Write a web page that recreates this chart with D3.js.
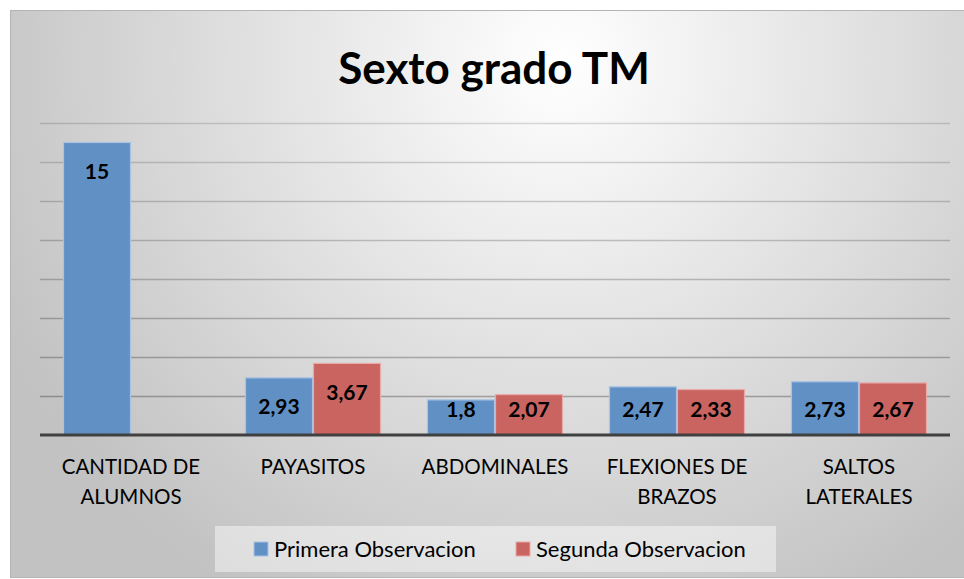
<!DOCTYPE html>
<html>
<head>
<meta charset="utf-8">
<script src="https://cdn.jsdelivr.net/npm/d3@7"></script>
<style>
  body { margin: 0; background: #fff; }
  svg { display: block; font-family: Lato, "Open Sans", sans-serif; }
</style>
</head>
<body>
<div id="chart"></div>
<script>
// Data
let categories = ["CANTIDAD DE ALUMNOS", "PAYASITOS", "ABDOMINALES", "FLEXIONES DE BRAZOS", "SALTOS LATERALES"];
let categoryLines = [["CANTIDAD DE", "ALUMNOS"], ["PAYASITOS"], ["ABDOMINALES"], ["FLEXIONES DE", "BRAZOS"], ["SALTOS", "LATERALES"]];
let seriesNames = ["Primera Observacion", "Segunda Observacion"];
let primera = [15, 2.93, 1.8, 2.47, 2.73];
let segunda = [null, 3.67, 2.07, 2.33, 2.67];
let yTicks = [0, 2, 4, 6, 8, 10, 12, 14, 16];
let titleText = "Sexto grado TM";

function barChart(){
    let width = 964, height = 579;
    let plot = {"left": 40, "right": 950, "top": 123, "bottom": 435};
    let colors = ["#6190c5", "#c96461"];
    let strokes = ["#a8c2e4", "#e8aaa8"];

    let svg = d3.select("#chart").append("svg")
        .attr("width", width)
        .attr("height", height);

    // background gradient
    let defs = svg.append("defs");
    let grad = defs.append("radialGradient")
        .attr("id", "bg")
        .attr("gradientUnits", "userSpaceOnUse")
        .attr("cx", 560).attr("cy", 60).attr("r", 620);
    grad.append("stop").attr("offset", "0%").attr("stop-color", "#ffffff");
    grad.append("stop").attr("offset", "100%").attr("stop-color", "#c2c2c2");

    svg.append("rect")
        .attr("x", 10.5).attr("y", 10.5)
        .attr("width", width).attr("height", 567)
        .attr("fill", "url(#bg)")
        .attr("stroke", "#b4b4b4");

    // title
    svg.append("text")
        .attr("x", 494).attr("y", 84)
        .attr("text-anchor", "middle")
        .style("font-size", "44px")
        .style("font-weight", "bold")
        .attr("fill", "#000")
        .text(titleText);

    // scales
    let x0 = d3.scaleBand()
        .domain(categories)
        .range([plot.left, plot.right])
        .paddingInner(0.2527)
        .paddingOuter(0.1264);
    let x1 = d3.scaleBand()
        .domain(seriesNames)
        .range([0, x0.bandwidth()]);
    let y = d3.scaleLinear()
        .domain([0, 16])
        .range([plot.bottom, plot.top]);

    // gridlines
    let yAxis = d3.axisLeft(y)
        .tickValues(yTicks.slice(1))
        .tickSize(-(plot.right - plot.left))
        .tickFormat("");
    let grid = svg.append("g")
        .attr("class", "grid")
        .attr("transform", "translate(" + plot.left + ",0)")
        .call(yAxis);
    grid.select(".domain").remove();
    grid.selectAll("line")
        .attr("stroke", "#000")
        .attr("stroke-opacity", d => 0.14 + 0.16 * (1 - d / 16))
        .attr("stroke-width", 1.5);

    // bars
    let rows = categories.map((c, i) => ({cat: c, values: [primera[i], segunda[i]]}));
    let groups = svg.selectAll(".group")
        .data(rows)
        .enter().append("g")
        .attr("transform", d => "translate(" + x0(d.cat) + ",0)");

    let cells = groups.selectAll(".bar")
        .data(d => d.values.map((v, j) => ({v: v, s: seriesNames[j], j: j})).filter(e => e.v != null))
        .enter();

    cells.append("rect")
        .attr("x", d => x1(d.s) + 0.5)
        .attr("y", d => y(d.v))
        .attr("width", x1.bandwidth() - 1)
        .attr("height", d => y(0) - y(d.v))
        .attr("fill", d => colors[d.j])
        .attr("stroke", d => strokes[d.j])
        .attr("stroke-width", 1.2);

    cells.append("text")
        .attr("x", d => x1(d.s) + x1.bandwidth() / 2)
        .attr("y", d => Math.min(y(d.v) + 29, y(0) - 25))
        .attr("dy", "0.35em")
        .attr("text-anchor", "middle")
        .style("font-size", "21px")
        .style("font-weight", "bold")
        .attr("fill", "#000")
        .text(d => String(d.v).replace(".", ","));

    // baseline
    svg.append("line")
        .attr("x1", plot.left).attr("x2", plot.right)
        .attr("y1", y(0)).attr("y2", y(0))
        .attr("stroke", "#404040")
        .attr("stroke-width", 3);

    // category labels
    let labels = svg.selectAll(".cat")
        .data(categories)
        .enter().append("text")
        .attr("text-anchor", "middle")
        .style("font-size", "20.5px")
        .attr("fill", "#000");
    labels.each(function(d, i){
        let t = d3.select(this);
        categoryLines[i].forEach((line, k) => {
            t.append("tspan")
                .attr("x", x0(d) + x0.bandwidth() / 2)
                .attr("y", 474 + k * 29.5)
                .text(line);
        });
    });

    // legend
    let legend = svg.append("g");
    legend.append("rect")
        .attr("x", 215).attr("y", 526)
        .attr("width", 561).attr("height", 46)
        .attr("fill", "#ffffff")
        .attr("fill-opacity", 0.45);
    let legendX = [254, 516];
    let items = legend.selectAll(".item")
        .data(seriesNames)
        .enter().append("g")
        .attr("transform", (d, i) => "translate(" + legendX[i] + ",542)");
    items.append("rect")
        .attr("width", 14).attr("height", 14)
        .attr("fill", (d, i) => colors[i])
        .attr("stroke", (d, i) => strokes[i])
        .attr("stroke-width", 1);
    items.append("text")
        .attr("x", 20).attr("y", 14.5)
        .style("font-size", "22px")
        .attr("fill", "#000")
        .text(d => d);
}

barChart();
</script>
</body>
</html>
